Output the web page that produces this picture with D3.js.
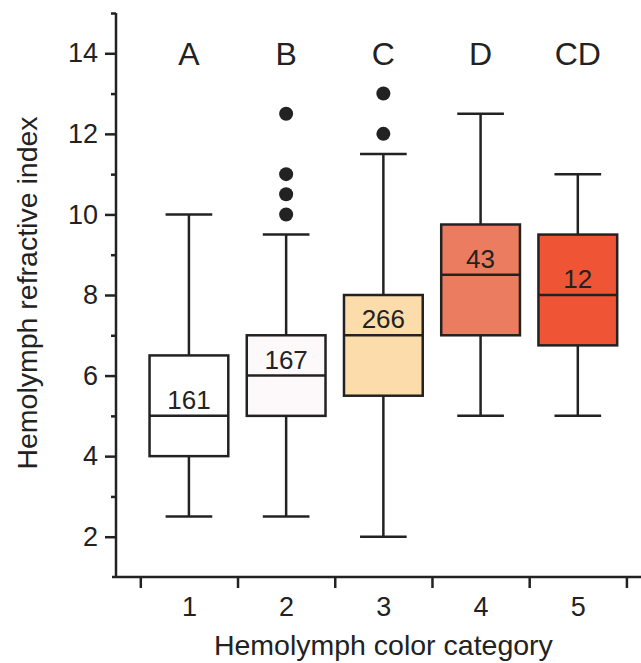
<!DOCTYPE html>
<html>
<head>
<meta charset="utf-8">
<script src="https://cdn.jsdelivr.net/npm/d3@7"></script>
<style>
  body { margin: 0; background: #fff; }
  svg text { font-family: "Liberation Sans", Arial, Helvetica, sans-serif; fill: #222; }
</style>
</head>
<body>
<svg id="chart" width="641" height="663"></svg>
<script>
// hemolymph refractive index by color category
const categories = [1, 2, 3, 4, 5];
const groupLetters = ["A", "B", "C", "D", "CD"];
const counts = [161, 167, 266, 43, 12];
const whiskerLow = [2.5, 2.5, 2, 5, 5];
const q1 = [4, 5, 5.5, 7, 6.75];
const medians = [5, 6, 7, 8.5, 8];
const q3 = [6.5, 7, 8, 9.75, 9.5];
const whiskerHigh = [10, 9.5, 11.5, 12.5, 11];
const outliers = [[], [10, 10.5, 11, 12.5], [12, 13], [], []];
const fills = ["#ffffff", "#fdf8fa", "#fcdcaa", "#ec7c5f", "#ef5434"];
const yTicks = [2, 4, 6, 8, 10, 12, 14];
const yMinor = [3, 5, 7, 9, 11, 13, 15];
const xTicks = [0.5, 1.5, 2.5, 3.5, 4.5, 5.5];

const ink = "#222";
const sw = 2.5;

const svg = d3.select("#chart");

const x = d3.scaleLinear().domain([0.25, 5.65]).range([116, 641]);
const y = d3.scaleLinear().domain([1, 15]).range([577, 13]);

const boxHalf = 0.405;
const capHalf = 0.24;

// y axis
const yAxis = svg.append("g")
  .attr("transform", `translate(${x(0.25)},0)`)
  .call(d3.axisLeft(y).tickValues(yTicks).tickSize(11).tickPadding(7).tickFormat(d3.format("d")));
svg.append("g")
  .attr("transform", `translate(${x(0.25)},0)`)
  .call(d3.axisLeft(y).tickValues(yMinor).tickSize(5).tickFormat(""))
  .select(".domain").remove();

// x axis
const xAxis = svg.append("g")
  .attr("transform", `translate(0,${y(1)})`)
  .call(d3.axisBottom(x).tickValues(xTicks).tickSize(11).tickFormat(""));
svg.append("g")
  .attr("transform", `translate(0,${y(1)})`)
  .call(d3.axisBottom(x).tickValues(categories).tickSize(0).tickPadding(20).tickFormat(d3.format("d")))
  .select(".domain").remove();

yAxis.select(".domain").remove();
xAxis.select(".domain").remove();
svg.append("line")
  .attr("x1", x(0.25)).attr("x2", x(0.25))
  .attr("y1", y(15)).attr("y2", y(1))
  .attr("stroke", ink).attr("stroke-width", sw);
svg.append("line")
  .attr("x1", x(0.25) - 4).attr("x2", x(5.65))
  .attr("y1", y(1)).attr("y2", y(1))
  .attr("stroke", ink).attr("stroke-width", sw);

svg.selectAll(".tick line").attr("stroke", ink).attr("stroke-width", sw);
svg.selectAll(".tick text").attr("font-size", 27).attr("fill", ink)
  .style("font-family", '"Liberation Sans", Arial, sans-serif');

// boxes
const boxes = svg.append("g").selectAll("g")
  .data(categories)
  .join("g");

boxes.append("line")
  .attr("x1", d => x(d)).attr("x2", d => x(d))
  .attr("y1", (d, i) => y(whiskerLow[i])).attr("y2", (d, i) => y(whiskerHigh[i]))
  .attr("stroke", ink).attr("stroke-width", sw);

boxes.append("line")
  .attr("x1", d => x(d - capHalf)).attr("x2", d => x(d + capHalf))
  .attr("y1", (d, i) => y(whiskerLow[i])).attr("y2", (d, i) => y(whiskerLow[i]))
  .attr("stroke", ink).attr("stroke-width", sw);

boxes.append("line")
  .attr("x1", d => x(d - capHalf)).attr("x2", d => x(d + capHalf))
  .attr("y1", (d, i) => y(whiskerHigh[i])).attr("y2", (d, i) => y(whiskerHigh[i]))
  .attr("stroke", ink).attr("stroke-width", sw);

boxes.append("rect")
  .attr("x", d => x(d - boxHalf))
  .attr("width", d => x(d + boxHalf) - x(d - boxHalf))
  .attr("y", (d, i) => y(q3[i]))
  .attr("height", (d, i) => y(q1[i]) - y(q3[i]))
  .attr("fill", (d, i) => fills[i])
  .attr("stroke", ink).attr("stroke-width", sw);

boxes.append("line")
  .attr("x1", d => x(d - boxHalf)).attr("x2", d => x(d + boxHalf))
  .attr("y1", (d, i) => y(medians[i])).attr("y2", (d, i) => y(medians[i]))
  .attr("stroke", ink).attr("stroke-width", sw);

boxes.append("text")
  .attr("x", d => x(d))
  .attr("y", (d, i) => y(medians[i]) - 7)
  .attr("text-anchor", "middle")
  .attr("font-size", 26)
  .text((d, i) => counts[i]);

boxes.selectAll("circle")
  .data((d, i) => outliers[i].map(v => ({ c: d, v })))
  .join("circle")
  .attr("cx", o => x(o.c))
  .attr("cy", o => y(o.v))
  .attr("r", 7)
  .attr("fill", ink);

// significance letters
svg.append("g").selectAll("text")
  .data(categories)
  .join("text")
  .attr("x", d => x(d))
  .attr("y", 65)
  .attr("text-anchor", "middle")
  .attr("font-size", 32)
  .text((d, i) => groupLetters[i]);

// axis titles
svg.append("text")
  .attr("x", x(3))
  .attr("y", 655)
  .attr("text-anchor", "middle")
  .attr("font-size", 28.5)
  .text("Hemolymph color category");

svg.append("text")
  .attr("transform", `translate(37,${(y(1) + y(15)) / 2 - 2}) rotate(-90)`)
  .attr("text-anchor", "middle")
  .attr("font-size", 28.5)
  .text("Hemolymph refractive index");
</script>
</body>
</html>
